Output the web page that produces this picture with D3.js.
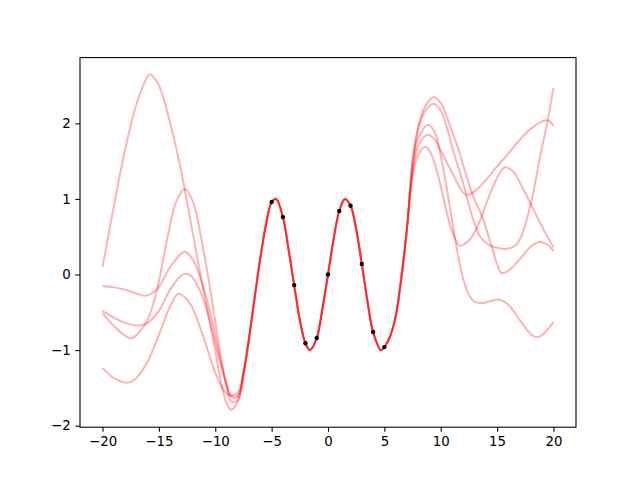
<!DOCTYPE html>
<html>
<head>
<meta charset="utf-8">
<script src="https://cdn.jsdelivr.net/npm/d3@7.9.0/dist/d3.min.js"></script>
<style>
  body { margin: 0; background: #fff; }
  svg { display: block; }
  text { font-family: "DejaVu Sans", sans-serif; font-size: 13.33px; fill: #000; }
</style>
</head>
<body>
<svg width="640" height="480"></svg>
<script>
// tick labels
const xTicks = [-20, -15, -10, -5, 0, 5, 10, 15, 20];
const yTicks = [-2, -1, 0, 1, 2];

// observed points
const trainX = [-5, -4, -3, -2, -1, 0, 1, 2, 3, 4, 5];
const trainY = [0.96, 0.76, -0.14, -0.91, -0.84, 0, 0.84, 0.91, 0.14, -0.76, -0.96];

// part where all samples agree
const midX = [-7, -6.5, -6, -5.5, -5, -4.6, -4, -3.5, -3, -2.5, -2, -1.6, -1, -0.5, 0, 0.5, 1, 1.5, 2, 2.5, 3, 3.5, 4, 4.7, 5, 5.5, 6, 6.5, 7];
const midY = [-0.84, -0.3, 0.22, 0.66, 0.96, 1.0, 0.76, 0.33, -0.14, -0.6, -0.91, -1.0, -0.84, -0.46, 0, 0.47, 0.84, 1.0, 0.91, 0.6, 0.14, -0.35, -0.76, -1.0, -0.96, -0.82, -0.56, -0.05, 0.6];

// left side of each sample
const leftX = [
  [-20, -19, -18, -17, -16, -15.8, -15, -14, -13, -12, -11, -10, -9.5, -9, -8.6, -8, -7.5],
  [-20, -19, -18, -17.4, -16.6, -16, -15.2, -14.2, -13.5, -12.7, -12, -11, -10, -9.5, -9, -8.6, -8, -7.5],
  [-20, -19, -18, -17, -16.2, -15.2, -14, -13, -12.7, -12, -11, -10, -9.5, -9, -8.6, -8, -7.5],
  [-20, -19, -18, -16.7, -16, -15, -14, -13, -12.5, -12, -11, -10, -9.5, -9, -8.6, -8, -7.5],
  [-20, -19, -17.7, -17, -16, -15, -14, -13.3, -12.5, -12, -11, -10, -9.5, -9, -8.6, -8, -7.5]
];
const leftY = [
  [0.10, 0.9, 1.65, 2.25, 2.62, 2.65, 2.5, 2.0, 1.35, 0.55, -0.25, -1.0, -1.42, -1.7, -1.79, -1.68, -1.35],
  [-0.51, -0.68, -0.81, -0.84, -0.74, -0.6, -0.22, 0.52, 0.95, 1.13, 0.97, 0.28, -0.62, -1.1, -1.48, -1.68, -1.66, -1.33],
  [-0.155, -0.17, -0.2, -0.25, -0.28, -0.2, 0.1, 0.28, 0.3, 0.2, -0.2, -0.8, -1.15, -1.45, -1.62, -1.62, -1.3],
  [-0.48, -0.57, -0.64, -0.675, -0.64, -0.48, -0.2, -0.01, 0.01, -0.04, -0.35, -0.9, -1.2, -1.45, -1.6, -1.6, -1.3],
  [-1.236, -1.37, -1.43, -1.37, -1.15, -0.8, -0.42, -0.256, -0.33, -0.45, -0.85, -1.3, -1.47, -1.57, -1.6, -1.56, -1.28]
];

// right side of each sample
const rightX = [
  [7.5, 8, 8.6, 9.36, 10, 10.5, 11, 11.6, 12.5, 13, 13.7, 14.5, 15, 15.4, 16, 17, 18, 18.8, 19.5, 20],
  [7.5, 8, 8.85, 9.5, 10, 11, 12, 12.3, 13, 14, 15, 16, 17, 18, 19.4, 20],
  [7.5, 8, 8.6, 9, 9.5, 10, 10.6, 11, 11.7, 12.5, 13, 13.5, 14, 15, 15.7, 16.5, 17, 18, 19, 20],
  [7.5, 8, 8.9, 9.5, 10, 10.5, 11, 11.5, 12, 12.5, 13, 13.5, 14, 15.1, 16, 17, 18, 18.5, 19, 20],
  [7.5, 8, 8.6, 9.36, 10, 10.5, 11.1, 12, 12.77, 13.5, 14.3, 15.1, 15.9, 16.6, 17.1, 18, 18.8, 19.5, 20]
];
const rightY = [
  [1.5, 1.95, 2.22, 2.35, 2.27, 2.1, 1.9, 1.64, 1.2, 0.99, 0.76, 0.38, 0.14, 0.02, 0.05, 0.2, 0.37, 0.43, 0.39, 0.31],
  [1.35, 1.7, 1.85, 1.78, 1.64, 1.35, 1.08, 1.05, 1.1, 1.25, 1.43, 1.6, 1.78, 1.93, 2.04, 1.97],
  [1.3, 1.58, 1.69, 1.64, 1.45, 1.17, 0.78, 0.58, 0.38, 0.45, 0.56, 0.72, 0.92, 1.28, 1.42, 1.35, 1.22, 0.93, 0.63, 0.36],
  [1.4, 1.8, 1.98, 1.87, 1.57, 1.17, 0.72, 0.28, -0.06, -0.27, -0.36, -0.38, -0.37, -0.33, -0.4, -0.6, -0.79, -0.83, -0.8, -0.63],
  [1.5, 1.92, 2.16, 2.26, 2.17, 1.97, 1.64, 1.2, 0.78, 0.5, 0.39, 0.35, 0.34, 0.38, 0.49, 0.94, 1.55, 2.05, 2.47]
];

const svg = d3.select('svg');
const plotLeft = 80, plotRight = 576, plotTop = 57.6, plotBottom = 427.2;

let x = d3.scaleLinear().domain([-22, 22]).range([plotLeft, plotRight]);
let y = d3.scaleLinear().domain([-2.02, 2.87]).range([plotBottom, plotTop]);

// build each sample as a list of points
let samples = leftX.map((lx, i) => {
  let pts = [];
  lx.forEach((v, j) => pts.push([v, leftY[i][j]]));
  midX.forEach((v, j) => pts.push([v, midY[j]]));
  rightX[i].forEach((v, j) => pts.push([v, rightY[i][j]]));
  return pts;
});

let line = d3.line()
  .x(d => x(d[0]))
  .y(d => y(d[1]))
  .curve(d3.curveCatmullRom.alpha(0.5));

svg.append('g')
  .selectAll('path')
  .data(samples)
  .join('path')
  .attr('d', line)
  .attr('fill', 'none')
  .attr('stroke', 'red')
  .attr('stroke-opacity', 0.3)
  .attr('stroke-width', 2);

svg.append('g')
  .selectAll('circle')
  .data(trainX)
  .join('circle')
  .attr('cx', d => x(d))
  .attr('cy', (d, i) => y(trainY[i]))
  .attr('r', 2.2)
  .attr('fill', 'black');

// axes
let xAxis = d3.axisBottom(x).tickValues(xTicks).tickFormat(d3.format('d')).tickSize(4.67).tickPadding(4.67);
let yAxis = d3.axisLeft(y).tickValues(yTicks).tickFormat(d3.format('d')).tickSize(4.67).tickPadding(4.67);

let gx = svg.append('g').attr('transform', `translate(0,${plotBottom})`).call(xAxis);
let gy = svg.append('g').attr('transform', `translate(${plotLeft},0)`).call(yAxis);
[gx, gy].forEach(g => {
  g.select('.domain').remove();
  g.selectAll('line').attr('stroke', '#000').attr('stroke-width', 1.07);
  g.selectAll('text').attr('font-family', '"DejaVu Sans", sans-serif').attr('font-size', 13.33).attr('fill', '#000');
});

svg.append('rect')
  .attr('x', plotLeft)
  .attr('y', plotTop)
  .attr('width', plotRight - plotLeft)
  .attr('height', plotBottom - plotTop)
  .attr('fill', 'none')
  .attr('stroke', '#000')
  .attr('stroke-width', 1.07);
</script>
</body>
</html>
